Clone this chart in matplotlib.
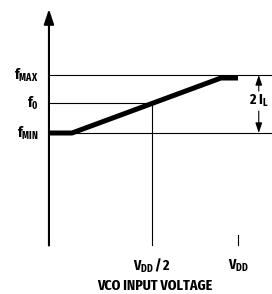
import matplotlib
matplotlib.use("Agg")
import matplotlib.pyplot as plt
from matplotlib import font_manager
from matplotlib.font_manager import FontProperties
from matplotlib.textpath import TextPath

# --- data (schematic units) ---
v_curve = [0, 12.2, 91.0, 100]        # VCO input voltage
f_curve = [112, 112, 167, 167]        # output frequency
f_min, f_0, f_max = 112, 142, 170
v_half, v_dd = 54.5, 100
x_ticklabels = [r'$V_{DD}\,/\,2$', r'$V_{DD}$']
y_labels = [r'$f_{MAX}$', r'$f_0$', r'$f_{MIN}$']
xlabel = 'VCO INPUT VOLTAGE'
span_label = r'$2\ I_L$'

# choose a bold condensed grotesque whose proportions match the original
names = {f.name for f in font_manager.fontManager.ttflist}
cands = ["Roboto Condensed", "Fira Sans Condensed", "IBM Plex Sans Condensed",
         "PT Sans Narrow", "Fira Sans Extra Condensed", "Sofia Sans Condensed",
         "Encode Sans Condensed", "Asap Condensed", "Barlow Semi Condensed"]
target_ratio = 119.0 / 11.0
best, best_err, best_h = "DejaVu Sans", 1e9, None
for c in cands:
    if c not in names:
        continue
    fp = FontProperties(family=c, weight='bold')
    path = font_manager.findfont(fp, fallback_to_default=False)
    if 'old' not in path.split('/')[-1]:
        continue
    ext = TextPath((0, 0), xlabel, size=100, prop=fp).get_extents()
    r = ext.width / ext.height
    if abs(r - target_ratio) < best_err:
        best, best_err, best_h = c, abs(r - target_ratio), ext.height
FAM = best
if best_h is None:
    fp = FontProperties(family=FAM, weight='bold')
    best_h = TextPath((0, 0), xlabel, size=100, prop=fp).get_extents().height
# font size (pt) so that capitals are ~11 px tall at 100 dpi
fs = 100 * 11.0 / best_h * 72 / 100

plt.rcParams['mathtext.fontset'] = 'custom'
for k in ('rm', 'it', 'bf', 'sf'):
    plt.rcParams['mathtext.' + k] = FAM + ':bold'

fig = plt.figure(figsize=(2.72, 2.94), dpi=100)
ax = fig.add_axes([0, 0, 1, 1])
ax.set_xlim(-25.9, 118.0)
ax.set_ylim(-49, 245)
ax.axis('off')

x_end = 117.3
ax.annotate('', xy=(0, 236), xytext=(0, -0.5),
            arrowprops=dict(arrowstyle='-|>,head_length=0.9,head_width=0.3',
                            lw=1.5, color='black', shrinkA=0, shrinkB=0))
ax.annotate('', xy=(118.5, 0), xytext=(-0.5, 0),
            arrowprops=dict(arrowstyle='-|>,head_length=0.7,head_width=0.25',
                            lw=1.5, color='black', shrinkA=0, shrinkB=0))

ax.plot([0, x_end], [f_max, f_max], color='black', lw=0.8)
ax.plot([0, x_end], [f_min, f_min], color='black', lw=0.8)
ax.plot([0, v_half], [f_0, f_0], color='black', lw=0.8)
ax.plot([v_half, v_half], [f_0, 0], color='black', lw=0.8)
ax.plot([v_dd, v_dd], [0, 10], color='black', lw=0.8)

ax.plot(v_curve, f_curve, color='black', lw=3.6, solid_capstyle='butt')

xa = 111
ax.annotate('', xy=(xa, f_max), xytext=(xa, 154),
            arrowprops=dict(arrowstyle='-|>,head_length=0.6,head_width=0.2',
                            lw=0.8, color='black', shrinkA=0, shrinkB=0))
ax.annotate('', xy=(xa, f_min), xytext=(xa, 134),
            arrowprops=dict(arrowstyle='-|>,head_length=0.6,head_width=0.2',
                            lw=0.8, color='black', shrinkA=0, shrinkB=0))
ax.text(xa, 144, span_label, ha='center', va='center', fontsize=fs)

for lab, yv in zip(y_labels, [f_max, f_0, f_min]):
    ax.text(-5.5, yv, lab, ha='right', va='center', fontsize=fs)

for lab, xv in zip(x_ticklabels, [v_half, v_dd]):
    ax.text(xv, -21, lab, ha='center', va='center', fontsize=fs)
ax.text(56, -41, xlabel, ha='center', va='center', fontsize=fs,
        family=FAM, weight='bold')

fig.savefig('out.png', dpi=100)
